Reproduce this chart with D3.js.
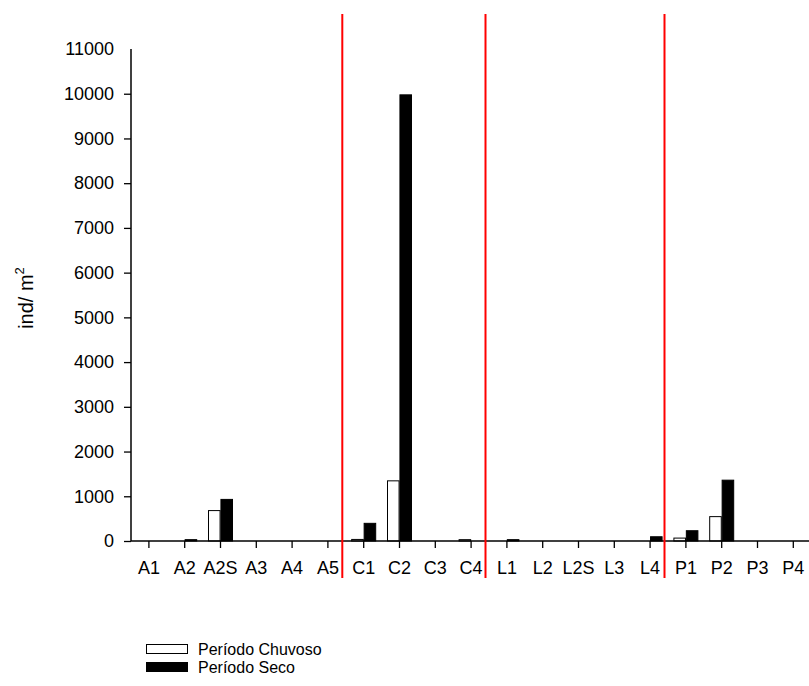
<!DOCTYPE html>
<html><head><meta charset="utf-8">
<script src="https://cdn.jsdelivr.net/npm/d3@7"></script>
<style>body{margin:0;background:#fff}svg{display:block;font-family:Arial,"Liberation Sans",sans-serif}</style>
</head><body>
<script>
const categories = ["A1","A2","A2S","A3","A4","A5","C1","C2","C3","C4","L1","L2","L2S","L3","L4","P1","P2","P3","P4"];
const chuvoso = [0,0,680,0,0,0,35,1345,0,30,0,0,0,0,0,65,545,0,0];
const seco    = [0,30,930,0,0,0,395,9975,0,0,30,0,0,0,95,230,1360,0,0];
const seriesNames = ["Período Chuvoso","Período Seco"];
const yTicks = [0,1000,2000,3000,4000,5000,6000,7000,8000,9000,10000,11000];
const dividersBefore = ["C1","L1","P1"];

const W=809,H=686;
const FONT="Arial, 'Liberation Sans', sans-serif";
const svg=d3.select("body").append("svg").attr("width",W).attr("height",H);
const x=d3.scaleBand().domain(categories).range([131,131+19*35.8]).padding(0);
const y=d3.scaleLinear().domain([0,11000]).range([541,49]);
const x1=d3.scaleBand().domain([0,1]).range([-12,12]).paddingInner(0.07);
const fills=["#fff","#000"];
const data=[chuvoso,seco];

// bars
categories.forEach((c,i)=>{
  data.forEach((s,k)=>{
    const v=s[i]; if(!v) return;
    svg.append("rect")
      .attr("x",x(c)+x.bandwidth()/2+x1(k))
      .attr("y",y(v))
      .attr("width",x1.bandwidth())
      .attr("height",y(0)-y(v))
      .attr("fill",fills[k]).attr("stroke","#000").attr("stroke-width",1);
  });
});

// y axis
const yAxis=svg.append("g").attr("transform","translate(131,0)")
  .call(d3.axisLeft(y).tickValues(yTicks).tickSize(7).tickPadding(10).tickFormat(d3.format("d")));
yAxis.attr("font-size",null).attr("font-family",null);
yAxis.selectAll("text").style("font-size","18px").style("font-family",FONT).attr("fill","#000");
yAxis.selectAll("line").attr("stroke","#000").attr("stroke-width",1.3);
yAxis.select(".domain").attr("d",`M0,${y(0)}V${y(11000)}`).attr("stroke","#000").attr("stroke-width",1.5);
yAxis.selectAll(".tick").filter(d=>d===11000).select("line").remove();

// x axis
const xAxis=svg.append("g").attr("transform","translate(0,541)")
  .call(d3.axisBottom(x).tickSize(7).tickPadding(13));
xAxis.attr("font-size",null).attr("font-family",null);
xAxis.selectAll("text").style("font-size","18px").style("font-family",FONT).attr("fill","#000");
xAxis.selectAll("line").attr("stroke","#000").attr("stroke-width",1.3);
xAxis.select(".domain").attr("d",`M131,0H${W}`).attr("stroke","#000").attr("stroke-width",1.5);

// red dividers
dividersBefore.forEach(c=>{
  const xv=x(c)-3.5;
  svg.append("line").attr("x1",xv).attr("x2",xv).attr("y1",14).attr("y2",578)
    .attr("stroke","#ff0000").attr("stroke-width",2);
});

// y title
svg.append("text").attr("transform","translate(33,298) rotate(-90)").attr("text-anchor","middle")
  .style("font-size","20px").style("font-family",FONT).attr("fill","#000")
  .html('ind/ m<tspan dy="-9" style="font-size:13px">2</tspan>');

// legend
seriesNames.forEach((n,k)=>{
  const ly=644+k*18;
  svg.append("rect").attr("x",146.5).attr("y",ly+0.5).attr("width",41).attr("height",9)
    .attr("fill",fills[k]).attr("stroke","#000").attr("stroke-width",1);
  svg.append("text").attr("x",198).attr("y",ly+5.5).attr("dy","0.35em")
    .style("font-size","16px").style("font-family",FONT).attr("fill","#000").text(n);
});
</script>
</body></html>
